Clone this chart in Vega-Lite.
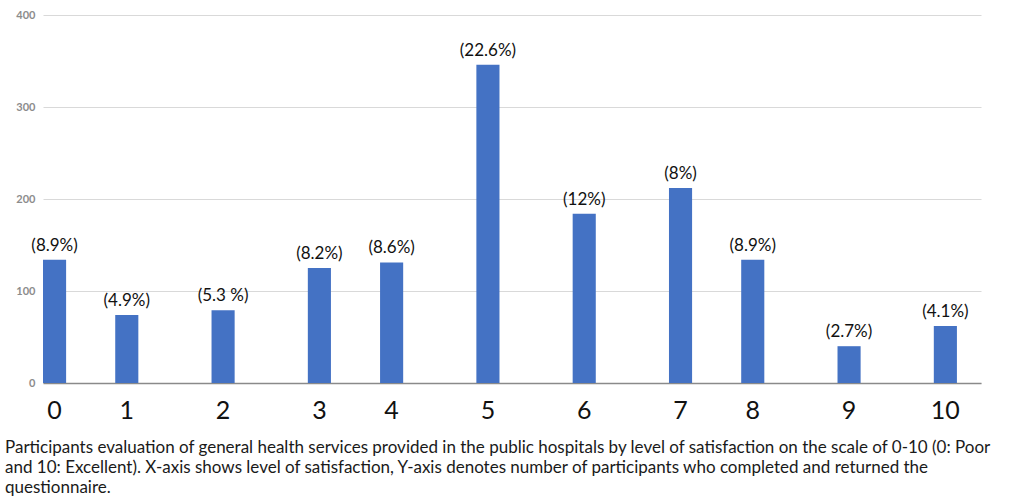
{
  "$schema": "https://vega.github.io/schema/vega-lite/v6.json",
  "autosize": "none",
  "width": 938,
  "height": 368,
  "padding": {"left": 43, "top": 15, "right": 37, "bottom": 117},
  "background": "white",
  "data": {
    "values": [
      {"level": "0", "participants": 134, "pct": "(8.9%)"},
      {"level": "1", "participants": 74, "pct": "(4.9%)"},
      {"level": "2", "participants": 79, "pct": "(5.3 %)"},
      {"level": "3", "participants": 125, "pct": "(8.2%)"},
      {"level": "4", "participants": 131, "pct": "(8.6%)"},
      {"level": "5", "participants": 346, "pct": "(22.6%)"},
      {"level": "6", "participants": 184, "pct": "(12%)"},
      {"level": "7", "participants": 212, "pct": "(8%)"},
      {"level": "8", "participants": 134, "pct": "(8.9%)"},
      {"level": "9", "participants": 40, "pct": "(2.7%)"},
      {"level": "10", "participants": 62, "pct": "(4.1%)"}
    ]
  },
  "title": {
    "text": [
      "Participants evaluation of general health services provided in the public hospitals by level of satisfaction on the scale of 0-10 (0: Poor",
      "and 10: Excellent).  X-axis shows level of satisfaction, Y-axis denotes number of participants who completed and returned the",
      "questionnaire."
    ],
    "orient": "bottom",
    "anchor": "start",
    "frame": "group",
    "dx": -38,
    "offset": 17,
    "font": "Lato",
    "fontSize": 17,
    "fontWeight": "normal",
    "color": "#1a1a1a",
    "lineHeight": 20
  },
  "config": {
    "view": {"stroke": null}
  },
  "encoding": {
    "x": {
      "field": "level",
      "type": "nominal",
      "scale": {
        "domain": ["0","e1","e2","1","e3","e4","e5","2","e6","e7","e8","3","e9","e10","4","e11","e12","e13","5","e14","e15","e16","6","e17","e18","e19","7","e20","e21","8","e22","e23","e24","9","e25","e26","e27","10","e28"],
        "paddingInner": 0.04,
        "paddingOuter": 0
      },
      "axis": {
        "title": null,
        "labelAngle": 0,
        "labelExpr": "indexof(datum.label, 'e') === 0 ? '' : datum.label",
        "labelFont": "Lato",
        "labelFontSize": 25,
        "labelColor": "#111111",
        "labelPadding": 15,
        "ticks": false,
        "grid": false,
        "domain": true,
        "domainColor": "#8a8a8a",
        "domainWidth": 1.5
      }
    },
    "y": {
      "field": "participants",
      "type": "quantitative",
      "scale": {"domain": [0, 400], "nice": false},
      "axis": {
        "title": null,
        "values": [0, 100, 200, 300, 400],
        "domain": false,
        "ticks": false,
        "grid": true,
        "gridColor": "#d9d9d9",
        "gridWidth": 1,
        "labelFont": "Lato",
        "labelFontSize": 11,
        "labelFontWeight": "bold",
        "labelColor": "#8c8c8c",
        "labelPadding": 8
      }
    }
  },
  "layer": [
    {"mark": {"type": "bar", "color": "#4472C4"}},
    {
      "mark": {"type": "text", "baseline": "bottom", "dy": -5, "font": "Lato", "fontSize": 17, "color": "#111111"},
      "encoding": {"text": {"field": "pct"}}
    }
  ]
}
